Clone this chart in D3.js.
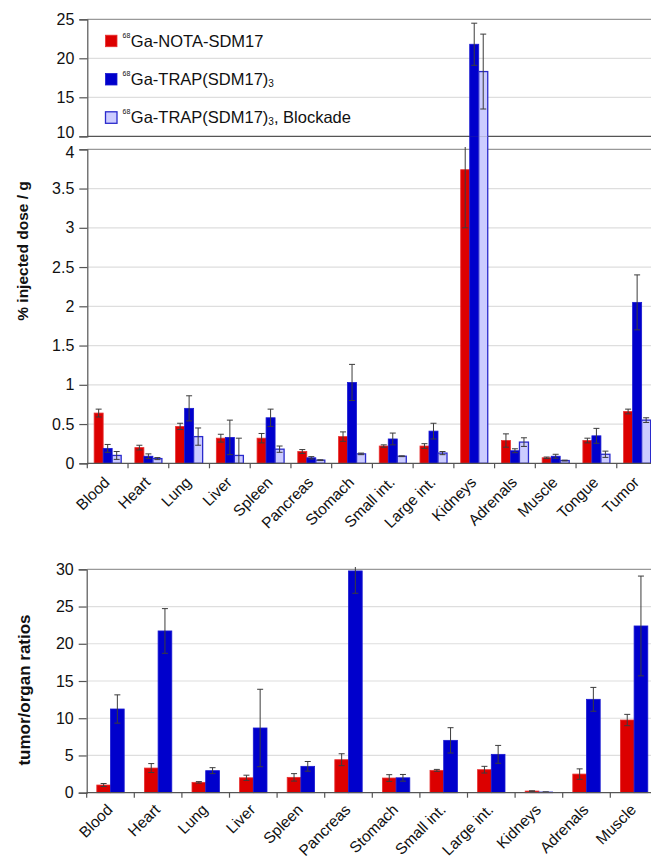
<!DOCTYPE html>
<html>
<head>
<meta charset="utf-8">
<script src="https://cdn.jsdelivr.net/npm/d3@7"></script>
<style>
  body { margin: 0; background: #fff; }
  svg { display: block; font-family: 'Liberation Sans', Arial, sans-serif; }
</style>
</head>
<body>
<div id="chart"></div>
<script>
// biodistribution, %ID/g
const organs = ['Blood', 'Heart', 'Lung', 'Liver', 'Spleen', 'Pancreas', 'Stomach', 'Small int.', 'Large int.', 'Kidneys', 'Adrenals', 'Muscle', 'Tongue', 'Tumor']
const notaMean = [0.64, 0.20, 0.47, 0.32, 0.32, 0.15, 0.34, 0.22, 0.22, 3.74, 0.29, 0.07, 0.29, 0.66]
const notaErr = [0.05, 0.03, 0.04, 0.05, 0.06, 0.025, 0.06, 0.015, 0.03, 0.74, 0.085, 0.01, 0.03, 0.03]
const trapMean = [0.19, 0.09, 0.70, 0.33, 0.58, 0.07, 1.03, 0.31, 0.41, 21.8, 0.16, 0.09, 0.35, 2.05]
const trapErr = [0.05, 0.03, 0.16, 0.22, 0.11, 0.015, 0.23, 0.075, 0.10, 2.7, 0.025, 0.025, 0.095, 0.35]
const blockMean = [0.10, 0.06, 0.34, 0.10, 0.18, 0.04, 0.12, 0.09, 0.13, 18.3, 0.27, 0.035, 0.115, 0.55]
const blockErr = [0.05, 0.013, 0.11, 0.22, 0.04, 0.005, 0.01, 0.005, 0.02, 4.8, 0.055, 0.005, 0.04, 0.03]

// tumor / organ ratios
const ratioOrgans = ['Blood', 'Heart', 'Lung', 'Liver', 'Spleen', 'Pancreas', 'Stomach', 'Small int.', 'Large int.', 'Kidneys', 'Adrenals', 'Muscle']
const notaRatio = [1.03, 3.31, 1.39, 2.0, 2.06, 4.43, 1.97, 3.0, 3.09, 0.22, 2.5, 9.76]
const notaRatioErr = [0.2, 0.6, 0.1, 0.35, 0.5, 0.8, 0.45, 0.13, 0.45, 0.03, 0.7, 0.76]
const trapRatio = [11.24, 21.72, 2.96, 8.69, 3.54, 29.78, 2.0, 7.03, 5.15, 0.09, 12.54, 22.39]
const trapRatioErr = [1.9, 3.0, 0.4, 5.2, 0.65, 3.0, 0.45, 1.7, 1.2, 0.01, 1.6, 6.7]

const lowTicks = [0, 0.5, 1, 1.5, 2, 2.5, 3, 3.5, 4]
const highTicks = [10, 15, 20, 25]
const ratioTicks = [0, 5, 10, 15, 20, 25, 30]

const series = [
  { key: 'nota', sup: '68', name: 'Ga-NOTA-SDM17', sub: '', tail: '', fill: '#dc0000', stroke: '#e83030' },
  { key: 'trap', sup: '68', name: 'Ga-TRAP(SDM17)', sub: '3', tail: '', fill: '#0000cc', stroke: '#1a1ad0' },
  { key: 'block', sup: '68', name: 'Ga-TRAP(SDM17)', sub: '3', tail: ', Blockade', fill: '#ccccff', stroke: '#2a2acc' },
]

const width = 651
const height = 859
const left = 87.3
const right = 657.5

const svg = d3.select('#chart')
  .append('svg')
  .attr('width', width)
  .attr('height', height)

svg.append('rect').attr('width', width).attr('height', height).attr('fill', '#fff')

const defs = svg.append('defs')
addClip('clipLowBars', 136.3, 463.3)
addClip('clipLowErr', 147, 463.3)
addClip('clipHigh', 0, 136.3)
addClip('clipRatio', 567, 792.7)

function addClip(id, y0, y1) {
  defs.append('clipPath').attr('id', id)
    .append('rect')
    .attr('x', 0).attr('y', y0)
    .attr('width', width).attr('height', y1 - y0)
}

const seriesByKey = {}
series.forEach(s => { seriesByKey[s.key] = s })

// ---------- top chart ----------
const x0 = d3.scaleBand().domain(organs).range([left, right])
const x1 = d3.scaleBand().domain(series.map(s => s.key)).range([0, x0.bandwidth()]).paddingOuter(0.76)
const yLow = d3.scaleLinear().domain([0, 4]).range([463.3, 149.3])
const yHigh = d3.scaleLinear().domain([10, 25]).range([136.3, 19.3])

const flatTop = organs.flatMap((organ, i) => [
  { organ, key: 'nota', v: notaMean[i], e: notaErr[i] },
  { organ, key: 'trap', v: trapMean[i], e: trapErr[i] },
  { organ, key: 'block', v: blockMean[i], e: blockErr[i] },
])

// gridlines
gridlines(yLow, lowTicks.slice(1, -1), '#dedede')
gridlines(yHigh, highTicks.slice(1, -1), '#dedede')
gridlines(yLow, [4], '#999')
gridlines(yHigh, [25], '#999')
// break line under the upper section
gridlines(yHigh, [10], '#555')

function gridlines(scale, ticks, color) {
  svg.append('g')
    .selectAll('line')
    .data(ticks)
    .join('line')
    .attr('x1', left).attr('x2', right)
    .attr('y1', d => scale(d)).attr('y2', d => scale(d))
    .attr('stroke', color)
    .attr('stroke-width', 1.2)
}

// bars: lower section (tall bars run through the break), then upper section
svg.append('g').attr('clip-path', 'url(#clipLowBars)')
  .selectAll('rect')
  .data(flatTop)
  .join('rect')
  .attr('x', d => x0(d.organ) + x1(d.key))
  .attr('width', x1.bandwidth())
  .attr('y', d => d.v >= 10 ? 0 : yLow(d.v))
  .attr('height', d => yLow(0) - (d.v >= 10 ? 0 : yLow(d.v)))
  .call(styleBar)

svg.append('g').attr('clip-path', 'url(#clipHigh)')
  .selectAll('rect')
  .data(flatTop.filter(d => d.v >= 10))
  .join('rect')
  .attr('x', d => x0(d.organ) + x1(d.key))
  .attr('width', x1.bandwidth())
  .attr('y', d => yHigh(d.v))
  .attr('height', d => yHigh(10) - yHigh(d.v) + 2)
  .call(styleBar)

function styleBar(sel) {
  sel.attr('fill', d => seriesByKey[d.key].fill)
    .attr('stroke', d => seriesByKey[d.key].stroke)
    .attr('stroke-width', d => d.key === 'block' ? 1.3 : 0.8)
}

// error bars
const topCx = d => x0(d.organ) + x1(d.key) + x1.bandwidth() / 2
errorBars(flatTop.filter(d => d.v < 10), topCx, yLow, 'url(#clipLowErr)')
errorBars(flatTop.filter(d => d.v >= 10), topCx, yHigh, 'url(#clipHigh)')

function errorBars(data, cx, scale, clip) {
  const g = svg.append('g').attr('clip-path', clip)
    .attr('stroke', '#3c3c3c').attr('stroke-width', 1).attr('fill', 'none')
  const item = g.selectAll('g').data(data).join('g')
  item.append('line')
    .attr('x1', cx).attr('x2', cx)
    .attr('y1', d => scale(d.v + d.e)).attr('y2', d => scale(d.v - d.e))
  item.append('line')
    .attr('x1', d => cx(d) - 3).attr('x2', d => cx(d) + 3)
    .attr('y1', d => scale(d.v + d.e)).attr('y2', d => scale(d.v + d.e))
  item.append('line')
    .attr('x1', d => cx(d) - 3).attr('x2', d => cx(d) + 3)
    .attr('y1', d => scale(d.v - d.e)).attr('y2', d => scale(d.v - d.e))
}

// axes
yAxis(yLow, lowTicks, left, 1)
yAxis(yHigh, highTicks, left, -1)
xAxis(x0, yLow(0), 20)

function yAxis(scale, ticks, x, nudge) {
  const g = svg.append('g')
    .attr('transform', `translate(${x},0)`)
    .call(d3.axisLeft(scale).tickValues(ticks).tickSize(8).tickPadding(5).tickFormat(d3.format('')))
  g.select('.domain').attr('stroke', '#555').attr('stroke-width', 1.2)
  g.selectAll('.tick line').attr('stroke', '#555').attr('stroke-width', 1.2)
  g.selectAll('.tick text')
    .attr('fill', '#111')
    .attr('font-size', 16)
    .attr('font-family', null)
  // keep the labels either side of the axis break apart
  if (nudge) {
    g.selectAll('.tick text')
      .filter(d => d === scale.domain()[nudge > 0 ? 1 : 0])
      .attr('dy', nudge > 0 ? '0.52em' : '0.1em')
  }
}

function xAxis(scale, y, labelDrop) {
  const g = svg.append('g')
  g.append('line')
    .attr('x1', scale.range()[0]).attr('x2', scale.range()[1])
    .attr('y1', y).attr('y2', y)
    .attr('stroke', '#555').attr('stroke-width', 1.2)
  g.selectAll('.tk')
    .data(scale.domain())
    .join('line')
    .attr('class', 'tk')
    .attr('x1', d => scale(d)).attr('x2', d => scale(d))
    .attr('y1', y).attr('y2', y + 5)
    .attr('stroke', '#555').attr('stroke-width', 1.2)
  g.selectAll('.lbl')
    .data(scale.domain())
    .join('text')
    .attr('class', 'lbl')
    .attr('transform', d => `translate(${scale(d) + scale.bandwidth() / 2 + 3},${y + labelDrop}) rotate(-45)`)
    .attr('text-anchor', 'end')
    .attr('font-size', 15.5)
    .attr('fill', '#111')
    .text(d => d)
}

svg.append('text')
  .attr('transform', 'translate(28,251) rotate(-90)')
  .attr('text-anchor', 'middle')
  .attr('font-size', 15.5)
  .attr('font-weight', 'bold')
  .attr('fill', '#111')
  .text('% injected dose / g')

// legend
const legend = svg.append('g')
series.forEach((s, i) => {
  const baseY = 46.7 + i * 38.3
  legend.append('rect')
    .attr('x', 105.5).attr('y', baseY - 11.5)
    .attr('width', 11.5).attr('height', 11.5)
    .attr('fill', s.fill)
    .attr('stroke', s.stroke)
    .attr('stroke-width', s.key === 'block' ? 1.3 : 0.8)
  const t = legend.append('text')
    .attr('x', 122.5).attr('y', baseY)
    .attr('font-size', 16.5)
    .attr('fill', '#111')
  t.append('tspan').attr('font-size', 7).attr('dy', -9).text(s.sup)
  t.append('tspan').attr('dy', 9).attr('dx', 0.5).text(s.name)
  if (s.sub) {
    t.append('tspan').attr('font-size', 10).attr('dy', 2).text(s.sub)
    t.append('tspan').attr('dy', -2).text(s.tail)
  }
})

// ---------- bottom chart ----------
const bx0 = d3.scaleBand().domain(ratioOrgans).range([86.7, 657.9])
const bx1 = d3.scaleBand().domain(['nota', 'trap']).range([0, bx0.bandwidth()]).paddingOuter(0.737)
const yRatio = d3.scaleLinear().domain([0, 30]).range([792.7, 569.3])

gridlines(yRatio, ratioTicks.slice(1, -1), '#dedede')
gridlines(yRatio, [30], '#999')

const flatRatio = ratioOrgans.flatMap((organ, i) => [
  { organ, key: 'nota', v: notaRatio[i], e: notaRatioErr[i] },
  { organ, key: 'trap', v: trapRatio[i], e: trapRatioErr[i] },
])

svg.append('g')
  .selectAll('rect')
  .data(flatRatio)
  .join('rect')
  .attr('x', d => bx0(d.organ) + bx1(d.key))
  .attr('width', bx1.bandwidth())
  .attr('y', d => yRatio(d.v))
  .attr('height', d => yRatio(0) - yRatio(d.v))
  .call(styleBar)

errorBars(flatRatio, d => bx0(d.organ) + bx1(d.key) + bx1.bandwidth() / 2, yRatio, 'url(#clipRatio)')

yAxis(yRatio, ratioTicks, 86.7, 0)
xAxis(bx0, yRatio(0), 18)

svg.append('text')
  .attr('transform', 'translate(30,690) rotate(-90)')
  .attr('text-anchor', 'middle')
  .attr('font-size', 17)
  .attr('font-weight', 'bold')
  .attr('fill', '#111')
  .text('tumor/organ ratios')
</script>
</body>
</html>
